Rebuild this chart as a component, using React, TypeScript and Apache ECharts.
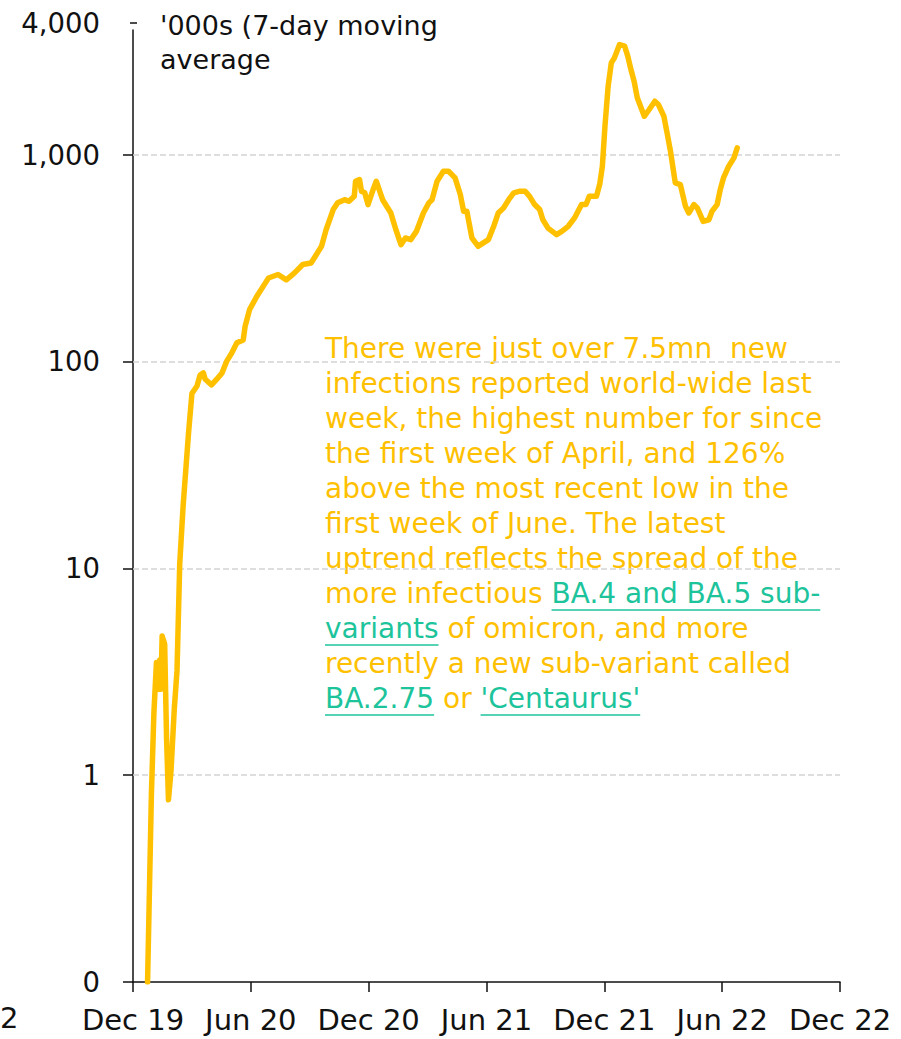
import React, { useEffect, useRef } from "react";
import * as echarts from "echarts";

// ---- data ----
const dates: string[] = [
  "2019-12-24", "2019-12-30", "2020-01-03", "2020-01-07", "2020-01-09", "2020-01-12",
  "2020-01-14", "2020-01-16", "2020-01-20", "2020-01-23", "2020-01-26", "2020-01-30",
  "2020-02-04", "2020-02-08", "2020-02-12", "2020-02-17", "2020-02-25", "2020-03-01",
  "2020-03-09", "2020-03-14", "2020-03-19", "2020-03-22", "2020-04-01", "2020-04-09",
  "2020-04-17", "2020-04-24", "2020-05-02", "2020-05-10", "2020-05-20", "2020-05-23",
  "2020-05-30", "2020-06-10", "2020-06-23", "2020-06-28", "2020-07-13", "2020-07-26",
  "2020-08-08", "2020-08-21", "2020-09-03", "2020-09-11", "2020-09-19", "2020-09-26",
  "2020-10-07", "2020-10-14", "2020-10-25", "2020-11-01", "2020-11-09", "2020-11-11",
  "2020-11-17", "2020-11-20", "2020-11-25", "2020-11-30", "2020-12-08", "2020-12-13",
  "2020-12-23", "2021-01-05", "2021-01-13", "2021-01-21", "2021-01-28", "2021-02-05",
  "2021-02-13", "2021-02-23", "2021-03-03", "2021-03-08", "2021-03-16", "2021-03-26",
  "2021-04-03", "2021-04-13", "2021-04-21", "2021-04-26", "2021-05-01", "2021-05-09",
  "2021-05-19", "2021-05-27", "2021-06-04", "2021-06-12", "2021-06-19", "2021-06-27",
  "2021-07-05", "2021-07-13", "2021-07-23", "2021-07-31", "2021-08-07", "2021-08-15",
  "2021-08-23", "2021-08-28", "2021-09-05", "2021-09-18", "2021-09-26", "2021-10-06",
  "2021-10-16", "2021-10-27", "2021-11-03", "2021-11-08", "2021-11-19", "2021-11-24",
  "2021-11-28", "2021-12-02", "2021-12-07", "2021-12-12", "2021-12-17", "2021-12-25",
  "2022-01-02", "2022-01-07", "2022-01-12", "2022-01-17", "2022-01-22", "2022-02-02",
  "2022-02-09", "2022-02-17", "2022-02-22", "2022-03-02", "2022-03-07", "2022-03-12",
  "2022-03-20", "2022-03-28", "2022-04-05", "2022-04-10", "2022-04-18", "2022-04-23",
  "2022-05-02", "2022-05-11", "2022-05-16", "2022-05-24", "2022-05-29", "2022-06-03",
  "2022-06-11", "2022-06-19", "2022-06-24",
];

const newInfections: number[] = [
  0.1, 0.8, 2.0, 3.5, 2.6, 3.6,
  2.6, 4.7, 4.3, 1.5, 0.76, 1.05,
  2.1, 3.2, 10.5, 20, 45, 70,
  76, 86, 88, 82, 77, 82,
  88, 100, 110, 123, 127, 148,
  178, 206, 239, 253, 263, 248,
  268, 294, 299, 328, 360, 433,
  542, 584, 605, 594, 628, 743,
  757, 665, 653, 573, 677, 743,
  605, 522, 433, 367, 395, 388,
  425, 522, 584, 605, 743, 830,
  830, 771, 641, 532, 532, 395,
  360, 374, 388, 450, 522, 552,
  605, 653, 665, 665, 628, 573,
  542, 484, 441, 410, 425, 450,
  494, 573, 573, 628, 628, 720,
  878, 1371, 2138, 2775, 2937, 3404,
  3342, 2990, 2576, 2263, 1880, 1531,
  1651, 1811, 1746, 1531, 1274, 1056,
  730, 716, 562, 522, 573, 552,
  475, 484, 532, 573, 677, 771,
  878, 964, 1077,
];

const xTickLabels: string[] = ["Dec 19", "Jun 20", "Dec 20", "Jun 21", "Dec 21", "Jun 22", "Dec 22"];
const yTickLabels: string[] = ["0", "1", "10", "100", "1,000"]; // 0.1, 1, 10, 100, 1000
const yTopLabel = "4,000";
const yMin = 0.1;
const yMax = 4000;
const gridValues: number[] = [1, 10, 100, 1000];
const titleLines: string[] = ["'000s (7-day moving", "average"];
const strayLabel = "2";

type Seg = { t: string; link?: boolean };
const noteLines: Seg[][] = [
  [{ t: "There were just over 7.5mn  new" }],
  [{ t: "infections reported world-wide last" }],
  [{ t: "week, the highest number for since" }],
  [{ t: "the first week of April, and 126%" }],
  [{ t: "above the most recent low in the" }],
  [{ t: "first week of June. The latest" }],
  [{ t: "uptrend reflects the spread of the" }],
  [{ t: "more infectious " }, { t: "BA.4 and BA.5 sub-", link: true }],
  [{ t: "variants", link: true }, { t: " of omicron, and more" }],
  [{ t: "recently a new sub-variant called" }],
  [{ t: "BA.2.75", link: true }, { t: " or " }, { t: "'Centaurus'", link: true }],
];

// ---- helpers ----
function monthsSinceDec2019(s: string): number {
  const [y, m, d] = s.split("-").map(Number);
  const dim = new Date(Date.UTC(y, m, 0)).getUTCDate();
  return (y - 2019) * 12 + (m - 12) + (d - 1) / dim;
}

const FONT = '"DejaVu Sans", sans-serif';
const Y_FS = 27.5;
const X_FS = 29;
const TITLE_FS = 27;
const NOTE_FS = 28;
const GOLD = "#FFC000";
const TEAL = "#1DC49B";
const INK = "#111111";

export default function App() {
  const ref = useRef<HTMLDivElement>(null);

  useEffect(() => {
    if (!ref.current) return;
    const chart = echarts.init(ref.current, undefined, { renderer: "svg" });

    const canvas = document.createElement("canvas");
    const ctx = canvas.getContext("2d")!;
    ctx.font = `${NOTE_FS}px ${FONT}`;

    const noteLeft = 325;
    const firstBaseline = 362;
    const lineGap = 35;
    const graphics: any[] = [];

    noteLines.forEach((segs, i) => {
      const base = firstBaseline + i * lineGap;
      let x = noteLeft;
      segs.forEach((s) => {
        const w = ctx.measureText(s.t).width;
        graphics.push({
          type: "text",
          x,
          y: base,
          silent: true,
          style: {
            text: s.t,
            font: `${NOTE_FS}px ${FONT}`,
            fill: s.link ? TEAL : GOLD,
            verticalAlign: "bottom",
            align: "left",
          },
        });
        if (s.link) {
          graphics.push({
            type: "line",
            silent: true,
            shape: { x1: x, y1: base + 3, x2: x + w, y2: base + 3 },
            style: { stroke: TEAL, lineWidth: 1.5 },
          });
        }
        x += w;
      });
    });

    titleLines.forEach((t, i) => {
      graphics.push({
        type: "text",
        x: 160,
        y: 25 + i * 34,
        silent: true,
        style: { text: t, font: `${TITLE_FS}px ${FONT}`, fill: INK, verticalAlign: "middle" },
      });
    });

    graphics.push({
      type: "text",
      x: 100,
      y: 23,
      silent: true,
      style: { text: yTopLabel, font: `${Y_FS}px ${FONT}`, fill: INK, align: "right", verticalAlign: "middle" },
    });
    graphics.push({
      type: "line",
      silent: true,
      shape: { x1: 130, y1: 23, x2: 137, y2: 23 },
      style: { stroke: INK, lineWidth: 1.5 },
    });
    graphics.push({
      type: "text",
      x: 0,
      y: 1018,
      silent: true,
      style: { text: strayLabel, font: `${X_FS}px ${FONT}`, fill: INK, align: "left", verticalAlign: "middle" },
    });

    const option: any = {
      animation: false,
      backgroundColor: "#ffffff",
      grid: { left: 133, right: 61, top: 30, bottom: 57, containLabel: false },
      xAxis: {
        type: "value",
        min: 0,
        max: 36,
        interval: 6,
        axisLine: { show: true, lineStyle: { color: INK, width: 1.5 } },
        axisTick: { show: true, length: 10, lineStyle: { color: INK, width: 1.5 } },
        axisLabel: {
          show: true,
          margin: 23,
          fontSize: X_FS,
          fontFamily: FONT,
          color: INK,
          formatter: (v: number) => xTickLabels[Math.round(v / 6)] ?? "",
        },
        splitLine: { show: false },
      },
      yAxis: {
        type: "log",
        logBase: 10,
        min: yMin,
        max: yMax,
        axisLine: { show: true, lineStyle: { color: INK, width: 1.5 } },
        axisTick: { show: true, length: 10, lineStyle: { color: INK, width: 1.5 } },
        axisLabel: {
          show: true,
          margin: 33,
          fontSize: Y_FS,
          fontFamily: FONT,
          color: INK,
          showMinLabel: true,
          showMaxLabel: false,
          formatter: (v: number) => {
            if (v > 2000) return "";
            const idx = Math.round(Math.log10(v)) + 1;
            return yTickLabels[idx] ?? "";
          },
        },
        splitLine: { show: false },
      },
      series: [
        {
          type: "line",
          data: dates.map((d, i) => [monthsSinceDec2019(d), newInfections[i]]),
          showSymbol: false,
          symbol: "none",
          smooth: false,
          lineStyle: { color: GOLD, width: 5.5, cap: "round", join: "round" },
          z: 3,
          markLine: {
            silent: true,
            symbol: "none",
            label: { show: false },
            lineStyle: { color: "#d4d4d4", type: "dashed", width: 1.5 },
            data: gridValues.map((v) => ({ yAxis: v })),
            z: 1,
          },
        },
      ],
      graphic: graphics,
    };

    chart.setOption(option);
    return () => chart.dispose();
  }, []);

  return (
    <div
      ref={ref}
      style={{ position: "fixed", left: 0, top: 0, width: 901, height: 1039, background: "#fff" }}
    />
  );
}
